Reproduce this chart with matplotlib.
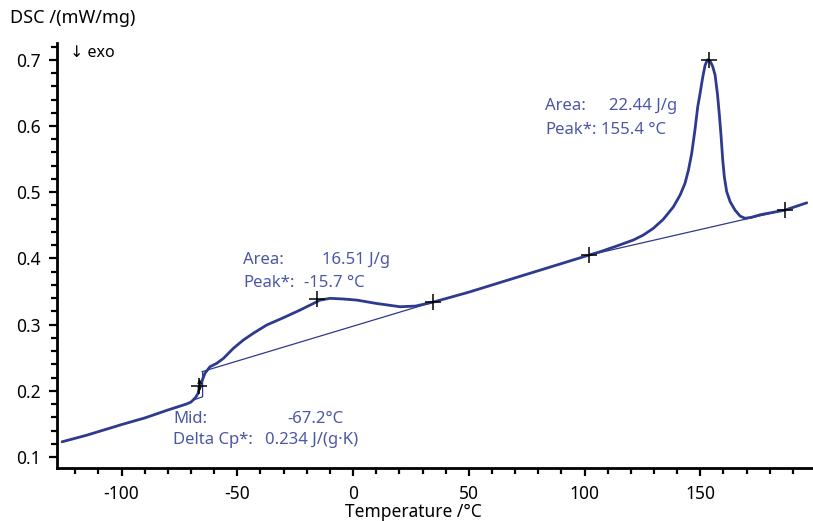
import matplotlib
matplotlib.use("Agg")
import matplotlib.pyplot as plt
from matplotlib.ticker import MultipleLocator

plt.rcParams['font.family'] = ['Noto Sans', 'DejaVu Sans']

# DSC curve
temp = [-125.7, -115, -100, -90, -80, -72, -70, -68, -67, -66.3, -65.4, -64.0,
        -61.8, -58.9, -56.0, -51.7, -47.4, -43.1, -37.3, -30.1, -22.9, -17.1, -14.3, -9.9,
        -4.2, 1.7, 10, 20.3, 27, 34.6, 50, 75,
        101.9, 106.7, 113.9, 121.1, 125.4, 129.7, 134.0, 138.4, 141.3, 143.4, 144.9, 146.3,
        147.7, 148.9, 149.9, 151.1, 152.1, 153.1, 154.2, 155.4, 156.4, 157.4, 158.2, 159.0,
        159.7, 160.4, 161.4, 162.9, 165.0, 167.2, 169.3, 172, 176, 186.6, 196]
dsc = [0.123, 0.133, 0.149, 0.159, 0.171, 0.180, 0.183, 0.190, 0.196, 0.207, 0.2137, 0.2264,
       0.2364, 0.2415, 0.249, 0.2642, 0.2767, 0.2869, 0.2994, 0.3104, 0.322, 0.332, 0.337, 0.3397,
       0.3387, 0.337, 0.332, 0.327, 0.328, 0.334, 0.349, 0.376,
       0.405, 0.410, 0.4187, 0.4278, 0.4353, 0.4454, 0.459, 0.478, 0.4958, 0.5134, 0.5335, 0.5587,
       0.594, 0.629, 0.649, 0.6745, 0.692, 0.700, 0.6986, 0.6896, 0.677, 0.649, 0.619, 0.584,
       0.549, 0.523, 0.501, 0.4857, 0.473, 0.464, 0.4606, 0.462, 0.466, 0.473, 0.484]

# evaluation markers
mark_t = [-66.5, -15.4, 34.6, 101.9, 153.8, 186.6]
mark_y = [0.207, 0.338, 0.334, 0.405, 0.700, 0.473]

# baselines / tangent construction
base1_t = [-65.2, 34.6]
base1_y = [0.229, 0.334]
base2_t = [101.9, 186.6]
base2_y = [0.405, 0.473]
tg_t = [-69.1, -65.0, -65.0]
tg_y = [0.186, 0.191, 0.229]

line_col = '#2d3a8e'
text_col = '#4b57a5'

W, H = 813, 521
fig = plt.figure(figsize=(W / 100, H / 100), dpi=100)
ax = fig.add_axes([57 / W, 1 - 468 / H, (W - 57) / W, (468 - 43) / H])

ax.plot(temp, dsc, color=line_col, lw=2.0, solid_capstyle='round',
        solid_joinstyle='round', zorder=3)
ax.plot(base1_t, base1_y, color=line_col, lw=0.9, zorder=2)
ax.plot(base2_t, base2_y, color=line_col, lw=0.9, zorder=2)
ax.plot(tg_t, tg_y, color=line_col, lw=0.9, zorder=2)
ax.plot(mark_t, mark_y, '+', color='black', ms=11, mew=1.1, zorder=4)
ax.annotate('', xy=(-66.3, 0.222), xytext=(-66.3, 0.195),
            arrowprops=dict(arrowstyle='<->', color='black', lw=0.8, mutation_scale=6), zorder=4)

ax.set_xlim(-127.9, 198.7)
ax.set_ylim(0.0834, 0.7254)
ax.xaxis.set_minor_locator(MultipleLocator(10))
ax.yaxis.set_minor_locator(MultipleLocator(0.02))
ax.set_xticks([-100, -50, 0, 50, 100, 150])
ax.set_xticklabels(['-100', '-50', '0', '50', '100', '150'])
ax.set_yticks([0.1, 0.2, 0.3, 0.4, 0.5, 0.6, 0.7])
ax.set_yticklabels(['0.1', '0.2', '0.3', '0.4', '0.5', '0.6', '0.7'])

for s in ['top', 'right']:
    ax.spines[s].set_visible(False)
for s in ['left', 'bottom']:
    ax.spines[s].set_linewidth(2.0)
ax.tick_params(which='major', direction='out', length=6, width=1.6, labelsize=12.5, pad=6)
ax.tick_params(which='minor', direction='out', length=4, width=1.6)


def px(x, y):
    return x / W, 1 - y / H


fig.text(*px(10, 18), 'DSC /(mW/mg)', fontsize=13, va='center', ha='left')
fig.text(*px(413, 512), 'Temperature /°C', fontsize=12.5, va='center', ha='center')
fig.text(*px(70, 53), '↓ exo', fontsize=11.5, va='center', ha='left')

# peak 2 labels
fig.text(*px(545, 106), 'Area:', color=text_col, fontsize=12, va='center')
fig.text(*px(609, 106), '22.44 J/g', color=text_col, fontsize=12, va='center')
fig.text(*px(545, 130), 'Peak*:', color=text_col, fontsize=12, va='center')
fig.text(*px(601, 130), '155.4 °C', color=text_col, fontsize=12, va='center')

# peak 1 labels
fig.text(*px(243, 260), 'Area:', color=text_col, fontsize=12, va='center')
fig.text(*px(322, 260), '16.51 J/g', color=text_col, fontsize=12, va='center')
fig.text(*px(243, 283), 'Peak*:', color=text_col, fontsize=12, va='center')
fig.text(*px(304, 283), '-15.7 °C', color=text_col, fontsize=12, va='center')

# glass transition labels
fig.text(*px(173, 419), 'Mid:', color=text_col, fontsize=12, va='center')
fig.text(*px(287, 419), '-67.2°C', color=text_col, fontsize=12, va='center')
fig.text(*px(173, 440), 'Delta Cp*:', color=text_col, fontsize=12, va='center')
fig.text(*px(265, 440), '0.234 J/(g·K)', color=text_col, fontsize=12, va='center')

fig.savefig('out.png', dpi=100, facecolor='white')
